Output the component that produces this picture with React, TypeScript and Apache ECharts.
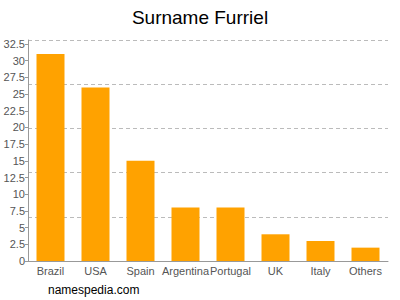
import React, { useEffect, useRef } from "react";
import * as echarts from "echarts";

const categories = ["Brazil", "USA", "Spain", "Argentina", "Portugal", "UK", "Italy", "Others"];
const counts = [31, 26, 15, 8, 8, 4, 3, 2];
const titleText = "Surname Furriel";
const footerText = "namespedia.com";

export default function App() {
  const ref = useRef<HTMLDivElement>(null);
  useEffect(() => {
    if (!ref.current) return;
    const chart = echarts.init(ref.current, null, { renderer: "svg" });
    const yMax = 33.1;
    chart.setOption({
      animation: false,
      textStyle: { fontFamily: "Liberation Sans, Arial, sans-serif" },
      title: {
        text: titleText,
        left: "center",
        top: 3,
        textStyle: { fontSize: 19, fontWeight: "normal", color: "#000", fontFamily: "Liberation Sans, Arial, sans-serif" },
      },
      graphic: [
        {
          type: "text",
          left: 48,
          top: 284,
          style: { text: footerText, fontSize: 12, fill: "#000", fontFamily: "Liberation Sans, Arial, sans-serif" },
        },
      ],
      grid: { left: 28, right: 12, top: 40, bottom: 39, containLabel: false },
      xAxis: {
        type: "category",
        data: categories,
        axisLine: { lineStyle: { color: "#999" } },
        axisTick: { show: false },
        axisLabel: { color: "#555", fontSize: 11, margin: 4, interval: 0 },
      },
      yAxis: [
        {
          type: "value",
          min: 0,
          max: yMax,
          interval: 2.5,
          axisLine: { show: true, lineStyle: { color: "#999" } },
          axisTick: { show: true, length: 3, lineStyle: { color: "#999" } },
          axisLabel: {
            color: "#555",
            fontSize: 11,
            margin: 3,
            showMaxLabel: false,
            formatter: (v: number) => (Math.abs(v / 2.5 - Math.round(v / 2.5)) < 1e-6 ? String(v) : ""),
          },
          splitLine: { show: false },
        },
        {
          type: "value",
          min: 0,
          max: yMax,
          interval: yMax / 5,
          position: "left",
          axisLine: { show: false },
          axisTick: { show: false },
          axisLabel: { show: false },
          splitLine: { show: true, lineStyle: { color: "#bbb", type: [4, 3] } },
        },
      ],
      series: [
        {
          type: "bar",
          data: counts,
          yAxisIndex: 0,
          barWidth: 28,
          itemStyle: { color: "#FFA200" },
        },
      ],
    });
    return () => chart.dispose();
  }, []);
  return (
    <div
      ref={ref}
      style={{ position: "fixed", left: 0, top: 0, width: 400, height: 300, background: "#fff" }}
    />
  );
}
